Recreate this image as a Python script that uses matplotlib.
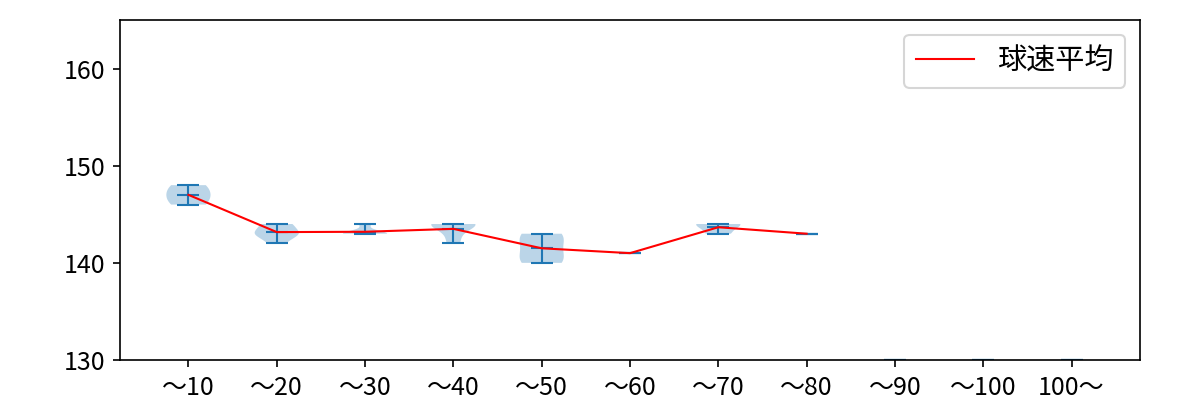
import numpy as np
import matplotlib
matplotlib.use("Agg")
import matplotlib.pyplot as plt

plt.rcParams["font.family"] = ["Noto Sans CJK JP", "DejaVu Sans"]

# pitch-count buckets and the pitch speeds (km/h) in each
labels = ["～10", "～20", "～30", "～40", "～50", "～60", "～70", "～80", "～90", "～100", "100～"]
speeds = [
    [146, 147, 148],
    [142, 143, 143, 143, 144, 144],
    [143, 143, 143, 143, 144],
    [142, 143, 144, 144, 144, 144],
    [140, 140, 141, 142, 143, 143],
    [141],
    [143, 144, 144],
    [143],
    [130],
    [130],
    [130],
]
n_used = 8  # buckets that actually have pitches

fig, ax = plt.subplots(figsize=(8, 8 / 3), dpi=150)
fig.subplots_adjust(left=0.1, right=0.95, bottom=0.1, top=0.95)

pos = np.arange(1, len(labels) + 1)
parts = ax.violinplot(speeds, positions=pos, showmeans=True)
for key in ["cmaxes", "cmins", "cbars", "cmeans"]:
    parts[key].set_linewidth(1)

means = [np.mean(s) for s in speeds[:n_used]]
ax.plot(pos[:n_used], means, color="red", linewidth=1, label="球速平均")

ax.set_xticks(pos)
ax.set_xticklabels(labels)
ax.set_ylim(130, 165)
ax.set_yticks([130, 140, 150, 160])
ax.tick_params(labelsize=12)
ax.legend(loc="upper right", fontsize=14)

fig.savefig("out.png")
